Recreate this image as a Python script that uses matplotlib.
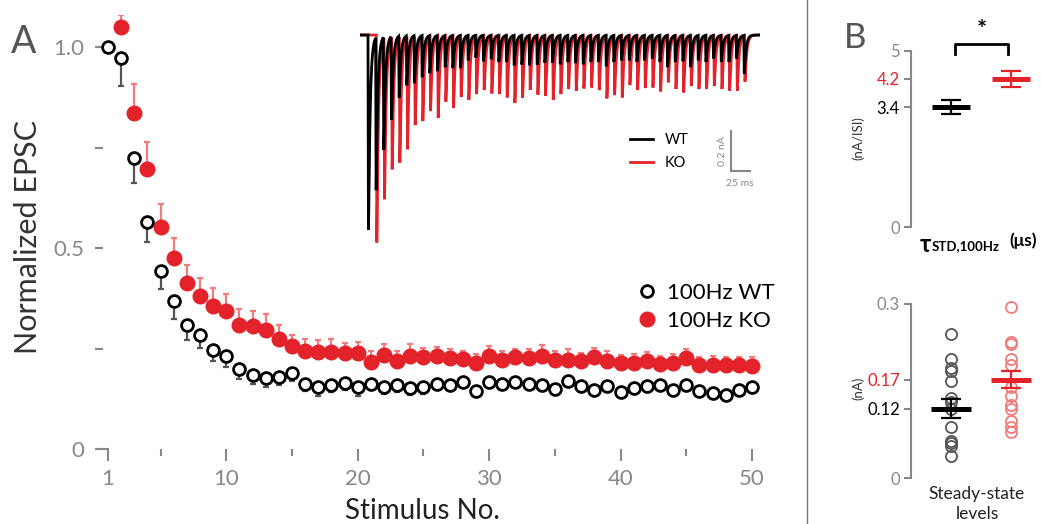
import numpy as np
import matplotlib.pyplot as plt
from matplotlib.lines import Line2D

plt.rcParams['font.family'] = ['Lato', 'DejaVu Sans']

W, H = 1041, 524

# panel A: normalized EPSC amplitudes (mean, SEM)
stim_wt = np.arange(1, 51)
stim_ko = np.arange(2, 51)
wt_mean = [1.0, 0.973, 0.725, 0.564, 0.442, 0.369, 0.308, 0.283, 0.247, 0.231,
           0.198, 0.184, 0.177, 0.179, 0.190, 0.162, 0.153, 0.160, 0.163, 0.153,
           0.162, 0.153, 0.158, 0.151, 0.153, 0.161, 0.159, 0.167, 0.145, 0.166,
           0.161, 0.167, 0.161, 0.158, 0.150, 0.169, 0.157, 0.148, 0.157, 0.143,
           0.152, 0.157, 0.160, 0.146, 0.160, 0.144, 0.140, 0.135, 0.147, 0.155]
wt_sem = [0.0, 0.07, 0.063, 0.05, 0.043, 0.045, 0.036, 0.032, 0.027, 0.027,
          0.025, 0.022, 0.022, 0.02, 0.02, 0.018, 0.02, 0.018, 0.017, 0.02,
          0.016, 0.017, 0.015, 0.016, 0.017, 0.015, 0.015, 0.014, 0.015, 0.015,
          0.014, 0.014, 0.015, 0.014, 0.016, 0.014, 0.015, 0.015, 0.015, 0.015,
          0.015, 0.014, 0.014, 0.015, 0.015, 0.015, 0.014, 0.015, 0.015, 0.015]
ko_mean = [1.05, 0.836, 0.697, 0.551, 0.476, 0.412, 0.381, 0.355, 0.343,
           0.309, 0.307, 0.296, 0.273, 0.255, 0.245, 0.241, 0.242, 0.238, 0.240,
           0.217, 0.233, 0.219, 0.231, 0.229, 0.231, 0.227, 0.223, 0.215, 0.231,
           0.221, 0.228, 0.227, 0.231, 0.221, 0.221, 0.218, 0.230, 0.219, 0.213,
           0.215, 0.219, 0.211, 0.215, 0.227, 0.209, 0.210, 0.209, 0.209, 0.207]
ko_sem = [0.03, 0.071, 0.067, 0.058, 0.048, 0.046, 0.045, 0.045, 0.043,
          0.040, 0.036, 0.039, 0.036, 0.029, 0.028, 0.031, 0.031, 0.026, 0.027,
          0.027, 0.028, 0.025, 0.029, 0.023, 0.023, 0.022, 0.021, 0.022, 0.025,
          0.022, 0.021, 0.022, 0.028, 0.024, 0.027, 0.022, 0.022, 0.026, 0.021,
          0.021, 0.022, 0.021, 0.022, 0.022, 0.020, 0.021, 0.021, 0.021, 0.022]

# inset: example trace peak amplitudes (nA), WT spikes 1..50, KO spikes 2..50
trace_wt_amp = [0.98, 0.77, 0.57, 0.42, 0.31, 0.25, 0.24, 0.21, 0.19, 0.18,
                0.16, 0.165, 0.165, 0.126, 0.112, 0.131, 0.12, 0.134, 0.134, 0.151,
                0.148, 0.151, 0.148, 0.138, 0.138, 0.146, 0.134, 0.14, 0.146, 0.134,
                0.134, 0.156, 0.134, 0.126, 0.126, 0.134, 0.126, 0.117, 0.134, 0.16,
                0.134, 0.131, 0.16, 0.126, 0.134, 0.117, 0.134, 0.134, 0.117, 0.193]
trace_ko_amp = [1.045, 0.815, 0.667, 0.635, 0.568, 0.447, 0.428, 0.378, 0.412,
                0.331, 0.364, 0.307, 0.323, 0.294, 0.274, 0.291, 0.294, 0.311, 0.339,
                0.311, 0.272, 0.297, 0.302, 0.323, 0.294, 0.269, 0.277, 0.266, 0.261,
                0.274, 0.316, 0.299, 0.311, 0.248, 0.274, 0.264, 0.261, 0.281, 0.235,
                0.269, 0.286, 0.252, 0.269, 0.269, 0.252, 0.269, 0.277, 0.277, 0.232]
isi_ms = 10.0

# panel B
tau_mean = [3.4, 4.2]
tau_sem = [0.2, 0.23]
ss_wt = [0.248, 0.205, 0.189, 0.185, 0.168, 0.138, 0.132, 0.119, 0.089,
         0.064, 0.060, 0.055, 0.038]
ss_ko = [0.294, 0.234, 0.231, 0.205, 0.195, 0.158, 0.141, 0.126, 0.120,
         0.098, 0.089, 0.080]
ss_mean = [0.12, 0.17]
ss_sem = [0.017, 0.015]

RED = '#e3222a'
LRED = '#f27b7b'
GRAY = '#888888'


def px_axes(fig, l, t, r, b):
    return fig.add_axes([l / W, 1 - b / H, (r - l) / W, (b - t) / H])


fig = plt.figure(figsize=(W / 100, H / 100), dpi=100)

# ---------- panel A ----------
ax = px_axes(fig, 103, 15, 765, 449)
ax.set_xlim(1 - 5 / 13.143, 1 + 657 / 13.143)
ax.set_ylim(0, 434 / 402)

ax.errorbar(stim_wt, wt_mean, yerr=[wt_sem, np.zeros(50)], fmt='none',
            ecolor='#555555', elinewidth=1.6, capsize=2.2, capthick=1.6, zorder=2)
ax.errorbar(stim_ko, ko_mean, yerr=[np.zeros(49), ko_sem], fmt='none',
            ecolor=LRED, elinewidth=1.6, capsize=2.2, capthick=1.6, zorder=2)
ax.plot(stim_wt, wt_mean, 'o', mfc='white', mec='black', mew=2.0, ms=8.5,
        label='100Hz WT', zorder=4, clip_on=False)
ax.plot(stim_ko, ko_mean, 'o', color=RED, mec=RED, ms=10.5,
        label='100Hz KO', zorder=3, clip_on=False)

for s in ['top', 'right', 'left']:
    ax.spines[s].set_visible(False)
ax.spines['bottom'].set_color(GRAY)
ax.spines['bottom'].set_linewidth(1.5)
ax.spines['bottom'].set_bounds(ax.get_xlim()[0], 1)

ax.set_xticks([1, 10, 20, 30, 40, 50])
ax.set_xticks(np.arange(5, 50, 10), minor=True)
ax.set_yticks([0, 0.5, 1.0], ['0', '0.5', '1.0'])
ax.set_yticks([0.25, 0.75], minor=True)
ax.tick_params(axis='x', which='major', length=8.5, width=1.5, color=GRAY,
               labelcolor=GRAY, labelsize=16, pad=6)
ax.tick_params(axis='x', which='minor', length=4.8, width=1.5, color=GRAY)
ax.tick_params(axis='y', which='both', length=5.5, width=1.5, color=GRAY,
               labelcolor=GRAY, labelsize=16, pad=8)

ax.legend(loc='upper left', bbox_to_anchor=(636 / W, 1 - 283 / H),
          bbox_transform=fig.transFigure, frameon=False, fontsize=16,
          handletextpad=0.4, labelspacing=0.35, borderpad=0, borderaxespad=0,
          handlelength=1.0)

fig.text(28 / W, 1 - 237 / H, 'Normalized EPSC', rotation=90, ha='center',
         va='center', fontsize=22, color='#333333')
fig.text(422 / W, 1 - 511 / H, 'Stimulus No.', ha='center', va='center',
         fontsize=20, color='#222222')
fig.text(24 / W, 1 - 42 / H, 'A', ha='center', va='center', fontsize=27,
         color='#555555')

# ---------- inset trace ----------
ain = px_axes(fig, 360, 25, 760, 250)
ain.axis('off')
px_ms = 0.767
ain.set_xlim(-8 / px_ms, 392 / px_ms)
ain.set_ylim(-(215) * 0.00504, 10 * 0.00504)

t = np.arange(-8 / px_ms, 392 / px_ms, 0.05)
s_k = np.arange(0, 30, 0.05)
kern = (1 - np.exp(-s_k / 0.25)) * np.exp(-s_k / 2.2)
kern_peak = kern.max()


def make_trace(amps, first, shift):
    y = np.zeros_like(t)
    for i, a in enumerate(amps):
        s = t - ((first + i) * isi_ms + shift)
        m = s >= 0
        y[m] -= a * (1 - np.exp(-s[m] / 0.25)) * np.exp(-s[m] / 2.2) / kern_peak
    return y


ain.plot(t, make_trace(trace_ko_amp, 1, 0.9), color=RED, lw=2.0,
         solid_joinstyle='miter', label='KO', zorder=2)
ain.plot(t, make_trace(trace_wt_amp, 0, 0.0), color='black', lw=2.0,
         solid_joinstyle='miter', label='WT', zorder=3)

h, l = ain.get_legend_handles_labels()
ain.legend(h[::-1], l[::-1], loc='upper left', bbox_to_anchor=(630 / W, 1 - 133 / H),
           bbox_transform=fig.transFigure, frameon=False, fontsize=10.5,
           handlelength=1.6, handletextpad=0.8, labelspacing=0.6, borderpad=0,
           borderaxespad=0)

# scale bar 0.2 nA / 25 ms
sb_x = (731 - 368) / px_ms
sb_y = -(131 - 35) * 0.00504
ain.plot([sb_x, sb_x, sb_x + 25], [sb_y, sb_y - 0.2, sb_y - 0.2], color=GRAY,
         lw=1.5, solid_joinstyle='miter')
ain.text(sb_x - 5, sb_y - 0.1, '0.2 nA', rotation=90, ha='right', va='center',
         fontsize=7.5, color=GRAY)
ain.text(sb_x + 12, sb_y - 0.24, '25 ms', ha='center', va='top', fontsize=7.5,
         color=GRAY)

# ---------- divider ----------
fig.add_artist(Line2D([807 / W, 807 / W], [0, 1], color='#777777', lw=1.0))

fig.text(855 / W, 1 - 38 / H, 'B', ha='center', va='center', fontsize=25,
         color='#555555')


def style_b(a, ticks, labels, colors, lo, hi):
    for s in ['top', 'right', 'bottom']:
        a.spines[s].set_visible(False)
    a.spines['left'].set_color(GRAY)
    a.spines['left'].set_linewidth(1.5)
    a.set_xlim(1 - 40 / 60, 2 + 29 / 60)
    a.set_ylim(lo, hi)
    a.set_xticks([])
    a.set_yticks(ticks, labels)
    a.tick_params(axis='y', length=5, width=1.5, color=GRAY, labelsize=12, pad=3)
    for tl, c in zip(a.get_yticklabels(), colors):
        tl.set_color(c)


# ---------- B top: tau ----------
bt = px_axes(fig, 911, 50.7, 1040, 227)
style_b(bt, [0, 3.4, 4.2, 5], ['0', '3.4', '4.2', '5'],
        [GRAY, 'black', RED, GRAY], 0, 5)
for x, m, e, c in zip([1, 2], tau_mean, tau_sem, ['black', RED]):
    bt.hlines(m, x - 0.32, x + 0.32, color=c, lw=3.6, zorder=3)
    bt.errorbar(x, m, yerr=e, fmt='none', ecolor=c, elinewidth=1.6,
                capsize=7, capthick=1.6, zorder=3)
bt.plot([1.07, 1.07, 1.95, 1.95], [4.92, 5.2, 5.2, 4.92], color='black',
        lw=2, clip_on=False)
bt.text(1.51, 5.25, '*', ha='center', va='bottom', fontsize=17,
        fontweight='bold', color='black')
fig.text(858 / W, 1 - 138 / H, '(nA/ISI)', rotation=90, ha='center',
         va='center', fontsize=9.5, color='#333333')

fig.text(925 / W, 1 - 244 / H, 'τ', ha='center', va='center', fontsize=17,
         fontweight='bold', color='black')
fig.text(932 / W, 1 - 246 / H, 'STD,100Hz', ha='left', va='center', fontsize=9.5,
         fontweight='bold', color='black')
fig.text(1023 / W, 1 - 241 / H, '(μs)', ha='center', va='center', fontsize=12.5,
         fontweight='bold', color='black')

# ---------- B bottom: steady state ----------
bb = px_axes(fig, 911, 304, 1040, 478.3)
style_b(bb, [0, 0.12, 0.17, 0.3], ['0', '0.12', '0.17', '0.3'],
        [GRAY, 'black', RED, GRAY], 0, 0.3)
bb.plot(np.ones(len(ss_wt)), ss_wt, 'o', mfc='none', mec='#555555', mew=1.3,
        ms=8, zorder=2, clip_on=False)
bb.plot(np.full(len(ss_ko), 2), ss_ko, 'o', mfc='none', mec=LRED, mew=1.3,
        ms=8, zorder=2, clip_on=False)
for x, m, e, c in zip([1, 2], ss_mean, ss_sem, ['black', RED]):
    bb.hlines(m, x - 0.33, x + 0.33, color=c, lw=3.6, zorder=3)
    bb.errorbar(x, m, yerr=e, fmt='none', ecolor=c, elinewidth=1.6,
                capsize=7, capthick=1.6, zorder=3)
fig.text(858 / W, 1 - 388 / H, '(nA)', rotation=90, ha='center',
         va='center', fontsize=9.5, color='#333333')

fig.text(977 / W, 1 - 504 / H, 'Steady-state\nlevels', ha='center', va='center',
         fontsize=12.5, color='#222222', linespacing=1.3)

fig.savefig('out.png', dpi=100)
